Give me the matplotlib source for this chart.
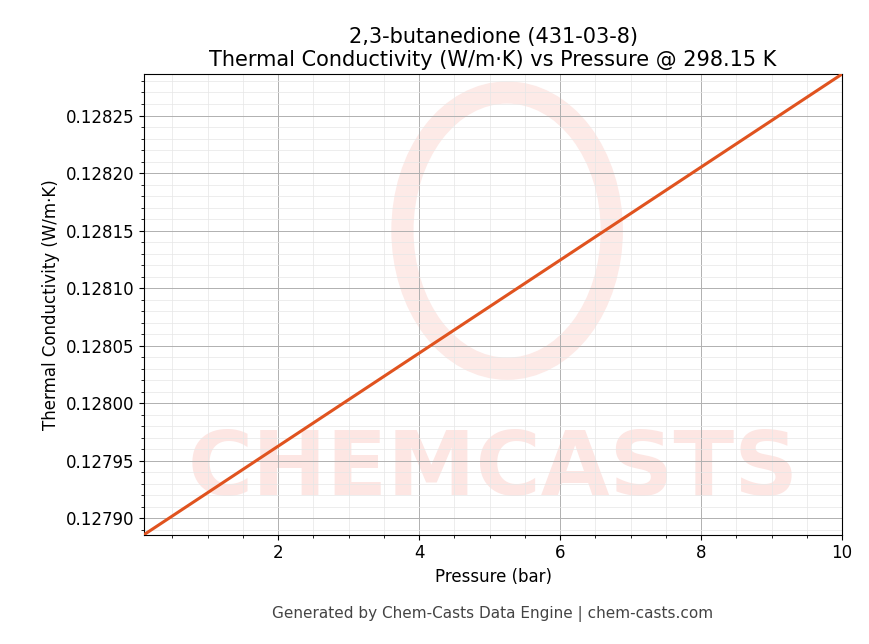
import matplotlib.pyplot as plt
from matplotlib.patches import Ellipse
from matplotlib.ticker import AutoMinorLocator

pressure = [0.1, 10.0]
conductivity = [0.127886, 0.128286]

fig = plt.figure(figsize=(8.69, 6.44), dpi=100)
ax = fig.add_axes([0.166, 0.17, 0.803, 0.715])

# faint watermark
ax.text(0.5, 0.14, "CHEMCASTS", transform=ax.transAxes, ha="center", va="center",
        fontsize=64, fontweight="bold", color="#fde6e3", zorder=0, clip_on=True)
ring = Ellipse((0.52, 0.66), 0.3, 0.6, transform=ax.transAxes, fill=False,
               lw=16, color="#fdeae7", zorder=0)
ax.add_patch(ring)

ax.plot(pressure, conductivity, color="#e0531f", lw=2.2, zorder=3)
ax.set_xlim(0.1, 10)
ax.set_ylim(0.127886, 0.128286)
ax.set_xticks([2, 4, 6, 8, 10])
ax.set_yticks([0.1279, 0.12795, 0.128, 0.12805, 0.1281, 0.12815, 0.1282, 0.12825])
ax.yaxis.set_major_formatter(plt.FormatStrFormatter("%.5f"))
ax.xaxis.set_minor_locator(AutoMinorLocator(4))
ax.yaxis.set_minor_locator(AutoMinorLocator(5))
ax.grid(which="major", color="#b0b0b0", lw=0.7)
ax.grid(which="minor", color="#e6e6e6", lw=0.5)
ax.tick_params(labelsize=12)
ax.set_xlabel("Pressure (bar)", fontsize=12)
ax.set_ylabel("Thermal Conductivity (W/m·K)", fontsize=12)
ax.set_title("2,3-butanedione (431-03-8)\nThermal Conductivity (W/m·K) vs Pressure @ 298.15 K",
             fontsize=15)
fig.text(0.567, 0.04, "Generated by Chem-Casts Data Engine | chem-casts.com",
         ha="center", fontsize=11, color="#444444")
fig.savefig("out.png")
